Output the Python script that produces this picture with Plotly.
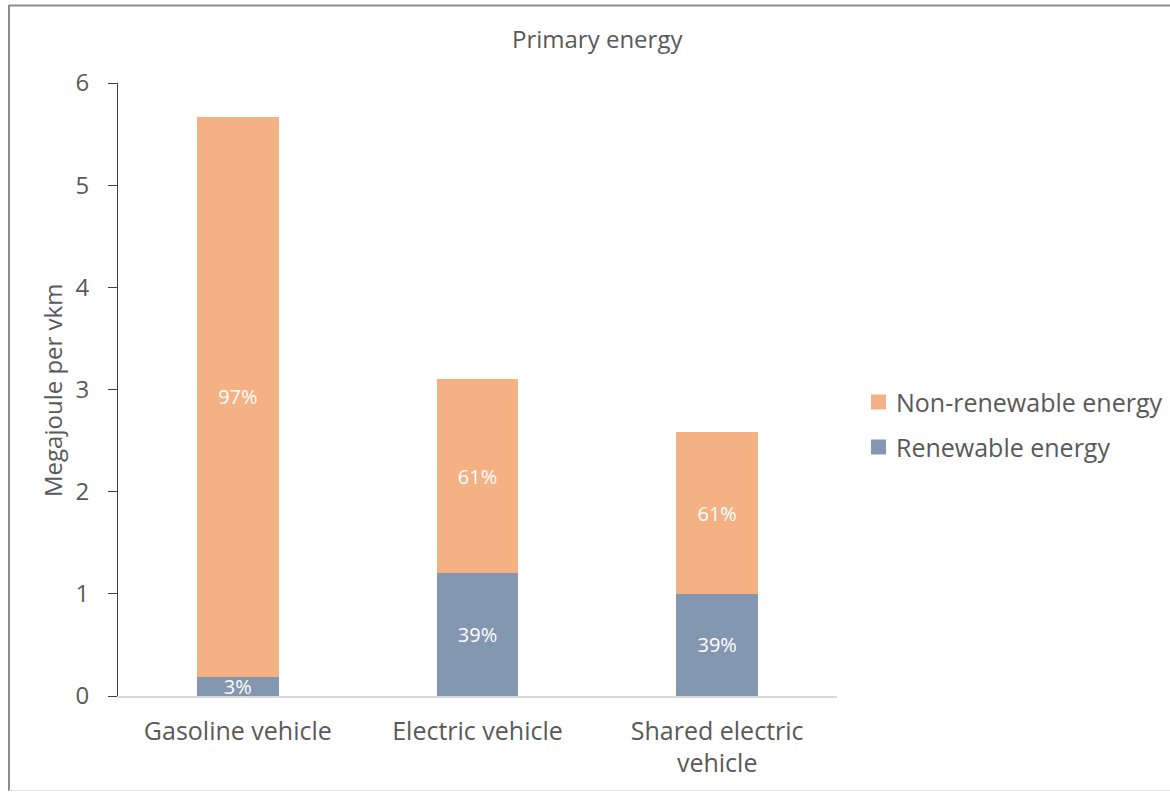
import plotly.graph_objects as go

# Primary energy per vehicle-km, split by energy source
categories = ["Gasoline vehicle", "Electric vehicle", "Shared electric<br>vehicle"]
renewable = [0.19, 1.20, 1.00]
non_renewable = [5.48, 1.90, 1.58]
series_names = ["Non-renewable energy", "Renewable energy"]
y_ticks = [0, 1, 2, 3, 4, 5, 6]

ORANGE = "#F4B183"
BLUE = "#8497B0"
TEXT = "#595959"
FONT = "Open Sans"

totals = [r + n for r, n in zip(renewable, non_renewable)]
ren_pct = [f"{round(100 * r / t)}%" for r, t in zip(renewable, totals)]
non_pct = [f"{round(100 * n / t)}%" for n, t in zip(non_renewable, totals)]

fig = go.Figure()
fig.add_trace(go.Bar(
    x=categories, y=renewable, name=series_names[1], marker_color=BLUE,
    marker_line_width=0, text=ren_pct, textposition="inside",
    insidetextanchor="middle", textangle=0, constraintext="none",
    textfont=dict(color="white", size=20, family=FONT),
))
fig.add_trace(go.Bar(
    x=categories, y=non_renewable, name=series_names[0], marker_color=ORANGE,
    marker_line_width=0, text=non_pct, textposition="inside",
    insidetextanchor="middle", textangle=0, constraintext="none",
    textfont=dict(color="white", size=20, family=FONT),
))

# Plot area geometry in pixels (used for paper-coordinate placement)
L, R, T, B = 118, 837, 83, 696
W, H = 1170, 792
pw, ph = R - L, B - T

def px(x):
    return (x - L) / pw

def py(y):
    return (B - y) / ph

annotations = [
    dict(text="Primary energy", x=px(597), y=py(38), xref="paper", yref="paper",
         showarrow=False, font=dict(size=24, color=TEXT, family=FONT),
         xanchor="center", yanchor="middle"),
    dict(text="Megajoule per vkm", x=px(52), y=py(391), xref="paper", yref="paper",
         showarrow=False, textangle=-90, font=dict(size=24, color=TEXT, family=FONT),
         xanchor="center", yanchor="middle"),
]

# Legend drawn as swatches + labels
shapes = []
legend_items = [(series_names[0], ORANGE, 402), (series_names[1], BLUE, 447)]
for name, color, yc in legend_items:
    shapes.append(dict(type="rect", xref="paper", yref="paper",
                       x0=px(871), x1=px(886), y0=py(yc + 7.5), y1=py(yc - 7.5),
                       fillcolor=color, line=dict(width=0)))
    annotations.append(dict(text=name, x=px(894), y=py(yc), xref="paper", yref="paper",
                            showarrow=False, xanchor="left", yanchor="middle",
                            font=dict(size=25, color=TEXT, family=FONT)))

# Outer frame
shapes += [
    dict(type="line", xref="paper", yref="paper", x0=px(9), x1=px(1175),
         y0=py(5.5), y1=py(5.5), line=dict(color="#8c8c8c", width=2)),
    dict(type="line", xref="paper", yref="paper", x0=px(9), x1=px(9),
         y0=py(5), y1=py(791), line=dict(color="#8c8c8c", width=2)),
    dict(type="line", xref="paper", yref="paper", x0=px(9), x1=px(1175),
         y0=py(790.5), y1=py(790.5), line=dict(color="#e6e6e6", width=1)),
]

fig.update_layout(
    barmode="stack",
    bargap=0.66,
    width=W, height=H,
    margin=dict(l=L, r=W - R, t=T, b=H - B, pad=0),
    paper_bgcolor="white", plot_bgcolor="white",
    showlegend=False,
    font=dict(family=FONT, color=TEXT),
    annotations=annotations,
    shapes=shapes,
)
fig.update_yaxes(
    range=[0, 6], tickvals=y_ticks, showgrid=False, zeroline=False,
    showline=True, linecolor="#404040", linewidth=1,
    ticks="outside", ticklen=9, tickcolor="#404040",
    tickfont=dict(size=24, color=TEXT, family=FONT), ticklabelstandoff=14,
)
fig.update_xaxes(
    showline=True, linecolor="#d9d9d9", linewidth=1.5, ticks="",
    tickfont=dict(size=25, color=TEXT, family=FONT), ticklabelstandoff=12,
)

fig.write_html("out.html")
